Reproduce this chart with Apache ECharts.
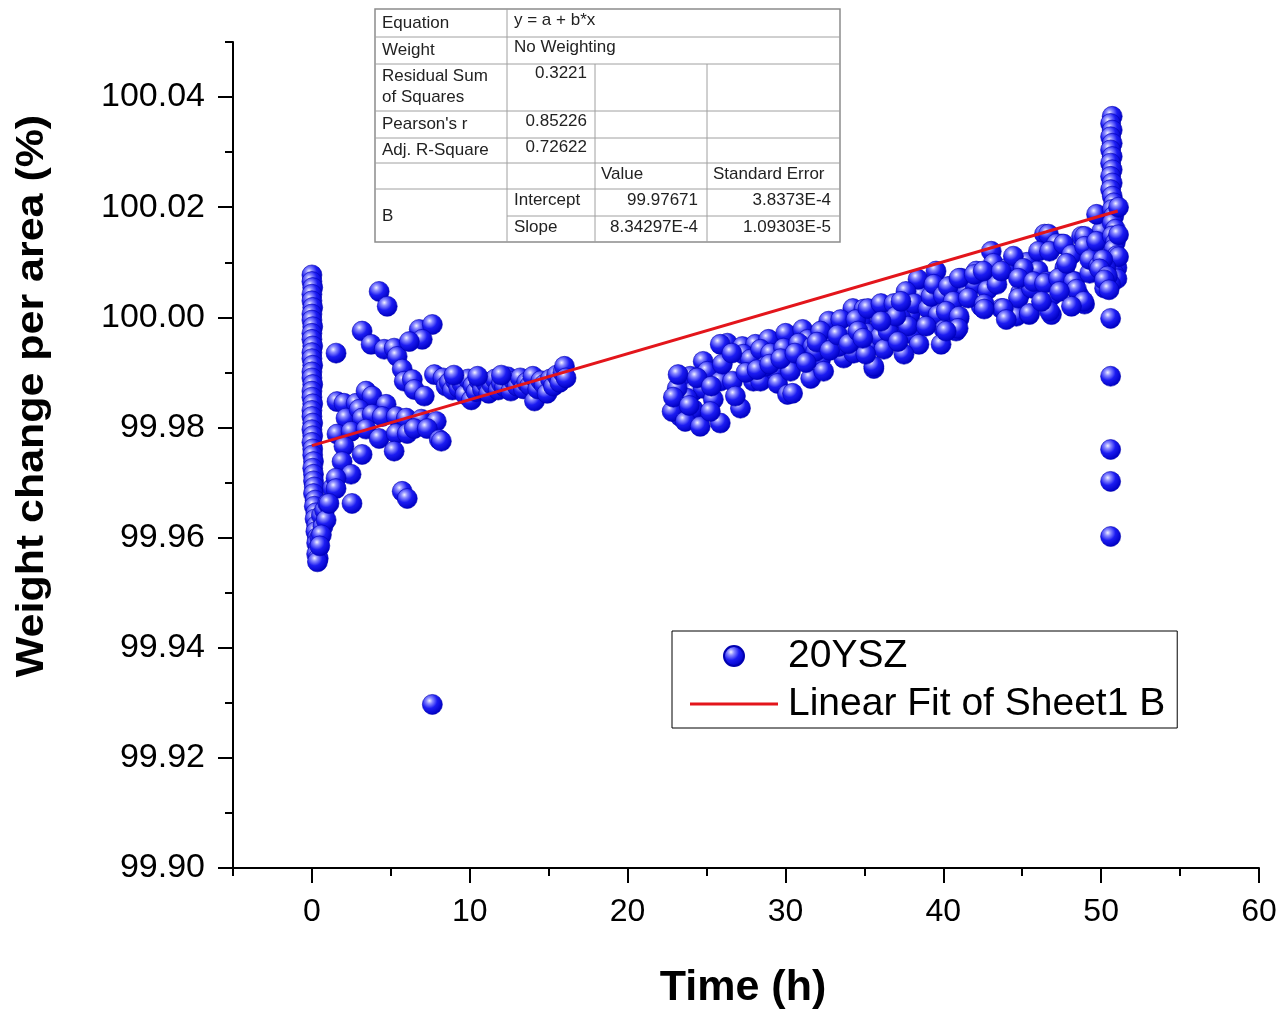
<!DOCTYPE html>
<html>
<head>
<meta charset="utf-8">
<title>20YSZ weight change per area</title>
<script src="https://cdn.jsdelivr.net/npm/echarts@6/dist/echarts.min.js"></script>
<style>
  html, body { margin: 0; padding: 0; background: #fff; }
  #main { width: 1284px; height: 1013px; }
</style>
</head>
<body>
<div id="main"></div>
<script>
// [time (h), weight change per area (%)], grouped by part of the run
var startColumn = [
  [0.0, 100.0077], [0.0, 100.0065], [0.05, 100.0054], [0.0, 100.0042], [0.0, 100.0030], [0.05, 100.0018],
  [0.0, 100.0006], [0.0, 99.9995], [0.05, 99.9983], [0.0, 99.9971], [0.0, 99.9960], [0.05, 99.9948],
  [0.0, 99.9936], [0.0, 99.9925], [0.05, 99.9913], [0.0, 99.9901], [0.0, 99.9890], [0.05, 99.9878],
  [0.0, 99.9866], [0.0, 99.9855], [0.05, 99.9843], [0.0, 99.9831], [0.0, 99.9820], [0.05, 99.9808],
  [0.0, 99.9796], [0.05, 99.9785], [0.0, 99.9773], [0.05, 99.9761], [0.05, 99.9750], [0.1, 99.9738],
  [0.05, 99.9726], [0.1, 99.9715], [0.1, 99.9703], [0.15, 99.9692], [0.1, 99.9680], [0.2, 99.9668],
  [0.15, 99.9657], [0.25, 99.9645], [0.2, 99.9634], [0.3, 99.9622], [0.25, 99.9611], [0.35, 99.9600],
  [0.3, 99.9590], [0.4, 99.9580], [0.3, 99.9570], [0.4, 99.9562], [0.35, 99.9556],
  [0.6, 99.9640], [0.8, 99.9650], [1.0, 99.9662], [0.7, 99.9620], [0.5, 99.9600], [0.9, 99.9632],
  [1.3, 99.9690], [0.6, 99.9605], [0.5, 99.9585]
];

var earlyScatter = [
  [4.26, 100.0047], [4.77, 100.0020], [1.53, 99.9935], [3.18, 99.9975], [3.75, 99.9951], [4.58, 99.9942],
  [5.21, 99.9944], [5.40, 99.9929], [6.80, 99.9978], [7.63, 99.9987], [6.99, 99.9960], [6.17, 99.9956],
  [5.72, 99.9906], [5.85, 99.9884], [6.36, 99.9887], [6.48, 99.9869], [7.12, 99.9857], [7.76, 99.9896],
  [1.59, 99.9847], [2.03, 99.9844], [2.80, 99.9844], [3.43, 99.9866], [3.81, 99.9857], [4.70, 99.9842],
  [2.16, 99.9817], [2.99, 99.9833], [3.18, 99.9817], [3.81, 99.9824], [4.45, 99.9820], [5.34, 99.9820],
  [5.98, 99.9817], [6.93, 99.9815], [7.88, 99.9811], [1.59, 99.9788], [2.48, 99.9793], [3.43, 99.9797],
  [4.26, 99.9780], [5.34, 99.9789], [6.04, 99.9789], [6.48, 99.9798], [7.31, 99.9798], [8.07, 99.9778],
  [2.03, 99.9766], [3.18, 99.9751], [5.21, 99.9757], [1.91, 99.9738], [2.48, 99.9715], [1.53, 99.9708],
  [1.53, 99.9689], [2.54, 99.9662], [1.08, 99.9662], [5.72, 99.9684], [6.04, 99.9671], [8.20, 99.9775],
  [7.63, 99.9297]
];

var plateau = [
  [8.3, 99.9890], [8.5, 99.9875], [8.7, 99.9882], [8.9, 99.9868], [9.1, 99.9885], [9.3, 99.9872],
  [9.5, 99.9880], [9.7, 99.9860], [9.9, 99.9888], [10.1, 99.9850], [10.2, 99.9876], [10.4, 99.9865],
  [10.6, 99.9885], [10.8, 99.9870], [11.0, 99.9882], [11.2, 99.9862], [11.4, 99.9878], [11.6, 99.9888],
  [11.8, 99.9868], [12.0, 99.9880], [12.2, 99.9874], [12.4, 99.9892], [12.6, 99.9866], [12.8, 99.9884],
  [13.0, 99.9875], [13.2, 99.9890], [13.4, 99.9870], [13.6, 99.9882], [13.8, 99.9876], [14.0, 99.9893],
  [14.1, 99.9848], [14.3, 99.9870], [14.5, 99.9885], [14.7, 99.9878], [14.9, 99.9862], [15.1, 99.9888],
  [15.3, 99.9875], [15.5, 99.9895], [15.7, 99.9882], [15.9, 99.9900], [16.0, 99.9911], [16.1, 99.9890],
  [9.0, 99.9895], [10.5, 99.9893], [12.0, 99.9895]
];

var rampBand = [
  [25.87, 99.9808], [24.41, 99.9815], [23.33, 99.9820], [23.14, 99.9838], [23.46, 99.9889], [23.97, 99.9893],
  [24.79, 99.9920], [26.32, 99.9953], [25.87, 99.9951], [27.27, 99.9947], [28.10, 99.9951], [28.93, 99.9960],
  [30.01, 99.9971], [31.09, 99.9978], [31.41, 99.9960], [32.74, 99.9993], [34.27, 100.0016], [34.97, 100.0015],
  [35.60, 99.9987], [25.05, 99.9902], [25.87, 99.9884], [26.64, 99.9884], [27.15, 99.9835], [27.97, 99.9884],
  [28.42, 99.9884], [29.37, 99.9902], [29.50, 99.9880], [30.13, 99.9860], [30.45, 99.9862], [30.96, 99.9929],
  [31.60, 99.9889], [32.23, 99.9924], [32.42, 99.9902], [33.69, 99.9926], [34.33, 99.9935], [34.77, 99.9956],
  [35.60, 99.9907], [24.16, 99.9866], [24.79, 99.9871], [25.43, 99.9851], [23.78, 99.9853], [23.14, 99.9871],
  [24.16, 99.9833], [23.20, 99.9896], [27.34, 99.9933], [27.78, 99.9924], [28.42, 99.9942], [29.05, 99.9935],
  [29.88, 99.9944], [30.83, 99.9953], [31.72, 99.9947], [33.06, 99.9962], [33.95, 99.9980], [34.77, 99.9993],
  [35.22, 99.9971], [22.82, 99.9829], [23.65, 99.9811], [24.60, 99.9802], [25.24, 99.9829], [26.83, 99.9857],
  [28.73, 99.9911], [30.32, 99.9902], [31.91, 99.9938], [33.38, 99.9947], [34.14, 99.9975], [32.23, 99.9975],
  [33.50, 99.9996], [34.46, 99.9996],
  [26.0, 99.9915], [26.6, 99.9935], [27.5, 99.9900], [28.2, 99.9905], [29.0, 99.9915], [29.7, 99.9925],
  [24.4, 99.9890], [25.3, 99.9875], [22.9, 99.9855], [23.9, 99.9840], [30.6, 99.9935], [31.3, 99.9918],
  [32.0, 99.9955], [32.8, 99.9940], [33.3, 99.9968], [34.0, 99.9952], [34.6, 99.9975], [35.4, 99.9950],
  [36.0, 99.9965], [36.6, 100.0008], [37.2, 99.9985], [37.9, 100.0005], [38.6, 100.0040], [38.0, 99.9970],
  [38.40, 100.0069], [37.64, 100.0047], [39.86, 100.0053], [40.50, 100.0056], [41.13, 100.0071], [42.09, 100.0084],
  [43.04, 100.0120], [43.17, 100.0098], [35.22, 100.0016], [36.05, 100.0025], [36.87, 100.0025], [37.32, 99.9998],
  [37.76, 99.9984], [38.14, 100.0025], [39.03, 100.0016], [39.67, 100.0005], [40.05, 99.9978], [41.00, 99.9998],
  [40.81, 99.9975], [38.46, 99.9951], [39.86, 99.9951], [37.51, 99.9933], [36.24, 99.9942], [35.60, 99.9911],
  [35.09, 99.9933], [34.90, 99.9962], [36.49, 99.9975], [37.13, 99.9956], [38.91, 99.9984], [39.22, 100.0038],
  [37.00, 100.0002], [36.05, 99.9993], [39.54, 100.0084], [37.32, 100.0029],
  [39.4, 100.0060], [40.0, 100.0040], [41.4, 100.0050], [42.0, 100.0060], [42.8, 100.0050], [43.4, 100.0060],
  [44.1, 100.0090], [44.9, 100.0045], [45.3, 100.0100], [46.0, 100.0085], [46.9, 100.0040], [47.7, 100.0090],
  [42.40, 100.0020], [43.67, 100.0016], [44.63, 100.0002], [45.45, 100.0005], [46.85, 100.0005], [44.76, 100.0035],
  [45.58, 100.0053], [46.54, 100.0065], [47.49, 100.0069], [48.32, 100.0065], [48.63, 100.0038], [48.95, 100.0024],
  [46.41, 100.0151], [47.49, 100.0133], [48.76, 100.0147], [49.59, 100.0114], [50.03, 100.0156], [50.48, 100.0053],
  [46.66, 100.0151], [47.17, 100.0134], [48.95, 100.0147], [49.71, 100.0187], [44.44, 100.0111], [45.07, 100.0089],
  [46.03, 100.0120], [46.73, 100.0120], [47.62, 100.0133], [48.12, 100.0114], [48.95, 100.0129], [49.59, 100.0111],
  [40.31, 100.0056], [41.00, 100.0071], [41.96, 100.0078], [42.53, 100.0084], [43.67, 100.0084], [44.76, 100.0071],
  [45.71, 100.0065], [46.41, 100.0062], [47.30, 100.0071], [48.25, 100.0065], [49.27, 100.0080], [40.62, 100.0029],
  [41.58, 100.0035], [42.59, 100.0024], [43.80, 100.0016], [45.45, 100.0007], [46.73, 100.0011], [48.44, 100.0051],
  [48.89, 100.0029], [50.22, 100.0053], [40.18, 100.0011], [41.00, 100.0002], [42.59, 100.0015], [40.94, 99.9980],
  [40.18, 99.9975], [46.22, 100.0029], [47.81, 100.0098], [47.36, 100.0047], [48.12, 100.0020], [43.99, 99.9996],
  [49.27, 100.0105], [49.84, 100.0093], [49.71, 100.0138]
];

var endColumn = [
  [50.7, 100.0365], [50.6, 100.0352], [50.7, 100.0340], [50.6, 100.0328], [50.7, 100.0316], [50.6, 100.0304],
  [50.7, 100.0292], [50.6, 100.0280], [50.7, 100.0268], [50.6, 100.0256], [50.7, 100.0244], [50.6, 100.0232],
  [50.7, 100.0220], [50.8, 100.0208], [50.7, 100.0196], [50.8, 100.0184], [50.7, 100.0172], [50.9, 100.0160],
  [50.7, 100.0148], [50.9, 100.0136], [50.8, 100.0124], [51.0, 100.0112], [50.7, 100.0100], [51.0, 100.0090],
  [50.8, 100.0080], [51.0, 100.0070], [50.6, 100.0060], [51.1, 100.0200], [51.1, 100.0150], [51.1, 100.0110],
  [50.3, 100.0090], [50.1, 100.0105], [49.9, 100.0088], [50.4, 100.0075], [50.2, 100.0068], [50.5, 100.0050],
  [50.6, 99.9998], [50.6, 99.9893], [50.6, 99.9760], [50.6, 99.9702], [50.6, 99.9602]
];

// ends of the fitted line y = a + b*x
var fitLine = [[0, 99.97671], [51.05, 100.0193]];

var xMajorTicks = [0, 10, 20, 30, 40, 50, 60];
var xMinorTicks = [-5, 5, 15, 25, 35, 45, 55];
var yMajorTicks = [99.90, 99.92, 99.94, 99.96, 99.98, 100.00, 100.02, 100.04];
var yMinorTicks = [99.91, 99.93, 99.95, 99.97, 99.99, 100.01, 100.03, 100.05];

var fitStats = [
  ['Equation', 'y = a + b*x'],
  ['Weight', 'No Weighting'],
  ['Residual Sum|of Squares', '0.3221'],
  ["Pearson's r", '0.85226'],
  ['Adj. R-Square', '0.72622'],
  ['', '', 'Value', 'Standard Error'],
  ['B', 'Intercept', '99.97671', '3.8373E-4'],
  ['', 'Slope', '8.34297E-4', '1.09303E-5']
];

var FONT = '"Liberation Sans", Arial, sans-serif';

var myChart = echarts.init(document.getElementById('main'));

var ball = new echarts.graphic.RadialGradient(0.36, 0.32, 0.68, [
  { offset: 0, color: '#f2f2ff' },
  { offset: 0.22, color: '#8a8aff' },
  { offset: 0.55, color: '#1c1cf2' },
  { offset: 1, color: '#0000c4' }
]);

// stats table drawn like the Origin fit report
function tableGraphic() {
  var L = 375, R = 840, T = 9, B = 242;
  var cols = [375, 507, 595, 707, 840];
  var kids = [];
  kids.push({ type: 'rect', shape: { x: L, y: T, width: R - L, height: B - T },
    style: { fill: '#fff', stroke: '#8c8c8c', lineWidth: 1.5 } });
  function hl(y, x1) {
    kids.push({ type: 'line', shape: { x1: x1 || L, y1: y, x2: R, y2: y },
      style: { stroke: '#a0a0a0', lineWidth: 1 } });
  }
  function vl(x, y1) {
    kids.push({ type: 'line', shape: { x1: x, y1: y1, x2: x, y2: B },
      style: { stroke: '#a0a0a0', lineWidth: 1 } });
  }
  [37, 64, 111, 138, 163, 189].forEach(function (y) { hl(y); });
  hl(216, cols[1]);
  vl(cols[1], T);
  vl(cols[2], 64);
  vl(cols[3], 64);
  function txt(s, x, y, align) {
    kids.push({ type: 'text', x: x, y: y,
      style: { text: s, font: '17px ' + FONT, fill: '#222', align: align || 'left', verticalAlign: 'middle' } });
  }
  txt(fitStats[0][0], 382, 23); txt(fitStats[0][1], 514, 20);
  txt(fitStats[1][0], 382, 50); txt(fitStats[1][1], 514, 47);
  var rs = fitStats[2][0].split('|');
  txt(rs[0], 382, 76); txt(rs[1], 382, 97); txt(fitStats[2][1], 587, 73, 'right');
  txt(fitStats[3][0], 382, 124); txt(fitStats[3][1], 587, 121, 'right');
  txt(fitStats[4][0], 382, 150); txt(fitStats[4][1], 587, 147, 'right');
  txt(fitStats[5][2], 601, 174); txt(fitStats[5][3], 713, 174);
  txt(fitStats[6][0], 382, 216);
  txt(fitStats[6][1], 514, 200); txt(fitStats[6][2], 698, 200, 'right'); txt(fitStats[6][3], 831, 200, 'right');
  txt(fitStats[7][1], 514, 227); txt(fitStats[7][2], 698, 227, 'right'); txt(fitStats[7][3], 831, 227, 'right');
  return { type: 'group', z: 100, children: kids };
}

var option = {
  backgroundColor: '#fff',
  animation: false,
  grid: { left: 233, right: 25, top: 42, bottom: 145 },
  legend: {
    orient: 'vertical',
    left: 672,
    top: 631,
    padding: [1, 12, 0, 18],
    itemGap: 0,
    itemWidth: 88,
    itemHeight: 20,
    borderColor: '#000',
    borderWidth: 1,
    backgroundColor: '#fff',
    textStyle: { fontSize: 39, color: '#000', fontFamily: FONT, lineHeight: 48, padding: [0, 0, 0, 5] },
    data: [
      { name: '20YSZ', icon: 'circle' },
      { name: 'Linear Fit of Sheet1 B', icon: 'path://M0,0 L88,0 L88,3 L0,3 Z' }
    ]
  },
  xAxis: [
    {
      type: 'value', position: 'bottom', min: -5, max: 60, interval: 5,
      axisLine: { onZero: false, lineStyle: { color: '#000', width: 2 } },
      axisTick: { customValues: xMajorTicks, length: 15, lineStyle: { color: '#000', width: 2 } },
      axisLabel: { customValues: xMajorTicks, fontSize: 32, color: '#000', fontFamily: FONT, margin: 28 },
      splitLine: { show: false }
    },
    {
      type: 'value', position: 'bottom', min: -5, max: 60, interval: 5,
      axisLine: { show: false, onZero: false },
      axisTick: { customValues: xMinorTicks, length: 8, lineStyle: { color: '#000', width: 2 } },
      axisLabel: { show: false },
      splitLine: { show: false }
    }
  ],
  yAxis: [
    {
      type: 'value', position: 'left', min: 99.90, max: 100.05, interval: 0.01,
      axisLine: { show: true, onZero: false, lineStyle: { color: '#000', width: 2 } },
      axisTick: { show: true, customValues: yMajorTicks, length: 15, lineStyle: { color: '#000', width: 2 } },
      axisLabel: {
        customValues: yMajorTicks, fontSize: 34, color: '#000', fontFamily: FONT, margin: 28,
        formatter: function (v) { return v.toFixed(2); }
      },
      splitLine: { show: false }
    },
    {
      type: 'value', position: 'left', min: 99.90, max: 100.05, interval: 0.01,
      axisLine: { show: false, onZero: false },
      axisTick: { show: true, customValues: yMinorTicks, length: 8, lineStyle: { color: '#000', width: 2 } },
      axisLabel: { show: false },
      splitLine: { show: false }
    }
  ],
  series: [
    {
      name: '20YSZ',
      type: 'scatter',
      symbol: 'circle',
      symbolSize: 20,
      itemStyle: { color: ball, borderColor: '#0000b0', borderWidth: 0.6, opacity: 1 },
      data: startColumn.concat(earlyScatter, plateau, rampBand, endColumn),
      z: 2
    },
    {
      name: 'Linear Fit of Sheet1 B',
      type: 'line',
      symbol: 'none',
      lineStyle: { color: '#e3151b', width: 3 },
      itemStyle: { color: '#e3151b' },
      data: fitLine,
      z: 3
    }
  ],
  graphic: [
    tableGraphic(),
    {
      type: 'text', x: 33, y: 396, rotation: Math.PI / 2, scaleX: 1.13,
      style: { text: 'Weight change per area (%)', font: 'bold 38px ' + FONT, fill: '#000', align: 'center', verticalAlign: 'middle' }
    },
    {
      type: 'text', x: 743, y: 988,
      style: { text: 'Time (h)', font: 'bold 43px ' + FONT, fill: '#000', align: 'center', verticalAlign: 'middle' }
    }
  ]
};

myChart.setOption(option);
window.addEventListener('resize', myChart.resize);
</script>
</body>
</html>
